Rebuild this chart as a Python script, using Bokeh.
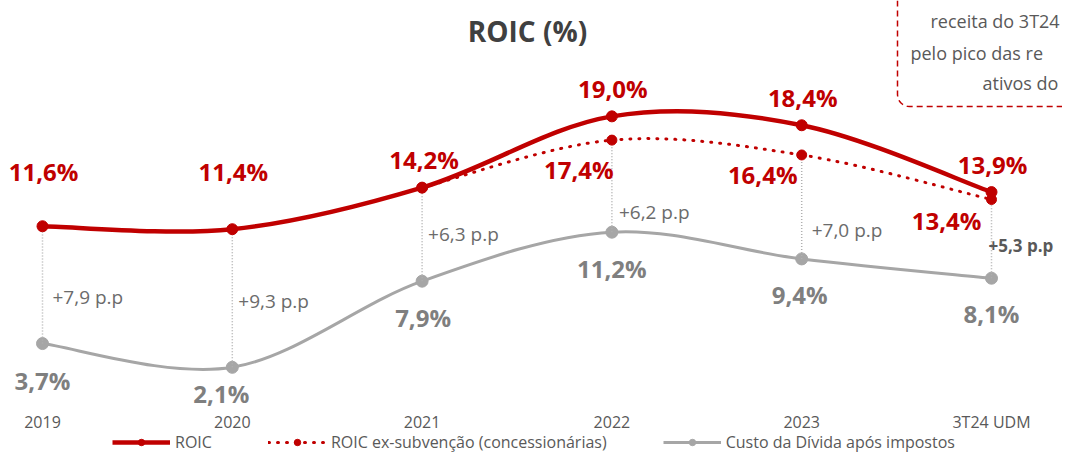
import math
from bokeh.plotting import figure
from bokeh.models import ColumnDataSource, Legend, LegendItem, Range1d
from bokeh.core.properties import value
from bokeh.embed import file_html
from bokeh.resources import INLINE

# ---------------- data ----------------
categories = ["2019", "2020", "2021", "2022", "2023", "3T24 UDM"]
roic = [11.6, 11.4, 14.2, 19.0, 18.4, 13.9]
roic_ex = [None, None, 14.2, 17.4, 16.4, 13.4]
custo = [3.7, 2.1, 7.9, 11.2, 9.4, 8.1]
title_text = "ROIC (%)"
legend_labels = ["ROIC", "ROIC ex-subvenção (concessionárias)", "Custo da Dívida após impostos"]
note_lines = ["receita do 3T24", "pelo pico das re", "ativos do"]

# ---------------- styles ----------------
RED = "#c00000"
GRAY_LINE = "#a6a6a6"
GRAY_LABEL = "#7f7f7f"
DIFF_COLOR = "#6b6b6b"
TEXT_DARK = "#404040"
AXIS_TEXT = "#595959"
FONT = "Open Sans"

W, H = 1062, 453

PX_X = 189.8
PX_Y = 14.85
X_ORIGIN = 42.0
Y_ORIGIN = 398.0


def sx(px):
    return (px - X_ORIGIN) / PX_X


def sy(py):
    return (Y_ORIGIN - py) / PX_Y


def fmt_pct(v):
    return f"{v:.1f}%".replace(".", ",")


def fmt_pp(v):
    return "+" + f"{v:.1f}".replace(".", ",") + " p.p"


p = figure(width=W, height=H,
           x_range=Range1d(sx(0), sx(W)), y_range=Range1d(sy(H), sy(0)),
           x_axis_location=None, y_axis_location=None, toolbar_location=None,
           output_backend="svg",
           min_border_left=0, min_border_right=0, min_border_top=0, min_border_bottom=0,
           outline_line_color=None, background_fill_color="white", border_fill_color="white")
p.grid.visible = False

xs = list(range(len(categories)))


def bezier_segments(xv, yv):
    pts = [(x, y) for x, y in zip(xv, yv) if y is not None]
    out = dict(x0=[], y0=[], x1=[], y1=[], cx0=[], cy0=[], cx1=[], cy1=[])
    n = len(pts)
    for k in range(n - 1):
        p0 = pts[k]
        p1 = pts[k + 1]
        pm = pts[k - 1] if k - 1 >= 0 else p0
        pn = pts[k + 2] if k + 2 < n else p1
        out["x0"].append(p0[0]); out["y0"].append(p0[1])
        out["x1"].append(p1[0]); out["y1"].append(p1[1])
        out["cx0"].append(p0[0] + (p1[0] - pm[0]) / 6.0)
        out["cy0"].append(p0[1] + (p1[1] - pm[1]) / 6.0)
        out["cx1"].append(p1[0] - (pn[0] - p0[0]) / 6.0)
        out["cy1"].append(p1[1] - (pn[1] - p0[1]) / 6.0)
    return ColumnDataSource(out)


g_line = p.bezier(x0="x0", y0="y0", x1="x1", y1="y1", cx0="cx0", cy0="cy0", cx1="cx1", cy1="cy1",
                  source=bezier_segments(xs, custo), line_color=GRAY_LINE, line_width=3)
g_pts = p.scatter(xs, custo, size=12, color=GRAY_LINE)

upper = [e if e is not None else r for r, e in zip(roic, roic_ex)]
p.segment(x0=xs, y0=custo, x1=xs, y1=upper, line_color="#b0b0b0", line_width=1.5, line_dash="1 2")

ex_x = [x for x, v in zip(xs, roic_ex) if v is not None]
ex_y = [v for v in roic_ex if v is not None]
e_line = p.bezier(x0="x0", y0="y0", x1="x1", y1="y1", cx0="cx0", cy0="cy0", cx1="cx1", cy1="cy1",
                  source=bezier_segments(xs, roic_ex), line_color=RED, line_width=3,
                  line_dash="1 8", line_cap="round")
e_pts = p.scatter(ex_x, ex_y, size=10, color=RED)

r_line = p.bezier(x0="x0", y0="y0", x1="x1", y1="y1", cx0="cx0", cy0="cy0", cx1="cx1", cy1="cy1",
                  source=bezier_segments(xs, roic), line_color=RED, line_width=4.5)
r_pts = p.scatter(xs, roic, size=11, color=RED)

roic_off = [(1, 55), (1, 58), (2, 28), (1, 28), (1, 28), (1, 28)]
ex_off = [None, None, None, (-33, -29), (-39, -20), (-45, -21)]
custo_off = [(0, -37), (-11, -26), (1, -36), (0, -36), (-2, -36), (0, -35)]
diff_off = [(10, 47), (6, 66), (6, 47), (7, 20), (10, 29), (-3, 33)]

p.text(x=[x + o[0] / PX_X for x, o in zip(xs, roic_off)],
       y=[v + o[1] / PX_Y for v, o in zip(roic, roic_off)],
       text=[fmt_pct(v) for v in roic], text_align="center", text_baseline="middle",
       text_font=value(FONT), text_font_style="bold", text_font_size="24px", text_color=RED)

ex_idx = [i for i, v in enumerate(roic_ex) if v is not None and ex_off[i] is not None]
p.text(x=[xs[i] + ex_off[i][0] / PX_X for i in ex_idx],
       y=[roic_ex[i] + ex_off[i][1] / PX_Y for i in ex_idx],
       text=[fmt_pct(roic_ex[i]) for i in ex_idx], text_align="center", text_baseline="middle",
       text_font=value(FONT), text_font_style="bold", text_font_size="24px", text_color=RED)

p.text(x=[x + o[0] / PX_X for x, o in zip(xs, custo_off)],
       y=[v + o[1] / PX_Y for v, o in zip(custo, custo_off)],
       text=[fmt_pct(v) for v in custo], text_align="center", text_baseline="middle",
       text_font=value(FONT), text_font_style="bold", text_font_size="24px", text_color=GRAY_LABEL)

diffs = [u - c for u, c in zip(upper, custo)]
n = len(xs)
p.text(x=[xs[i] + diff_off[i][0] / PX_X for i in range(n - 1)],
       y=[custo[i] + diff_off[i][1] / PX_Y for i in range(n - 1)],
       text=[fmt_pp(diffs[i]) for i in range(n - 1)], text_align="left", text_baseline="middle",
       text_font=value(FONT), text_font_size="19px", text_color=DIFF_COLOR)
p.text(x=[xs[-1] + diff_off[-1][0] / PX_X], y=[custo[-1] + diff_off[-1][1] / PX_Y],
       text=[fmt_pp(diffs[-1])], text_align="left", text_baseline="middle",
       text_font=value(FONT), text_font_style="bold", text_font_size="17px", text_color=AXIS_TEXT)

# category labels along the bottom (x positions from the x scale)
p.text(x=xs, y=[sy(421)] * len(xs), text=categories, text_align="center", text_baseline="middle",
       text_font=value(FONT), text_font_size="16px", text_color=AXIS_TEXT)

p.text(x=[sx(527)], y=[sy(30)], text=[title_text], text_align="center", text_baseline="middle",
       text_font=value(FONT), text_font_style="bold", text_font_size="28px", text_color=TEXT_DARK)

bx, by, rad = 897.0, 106.0, 12.0
box_px = [(bx, 0.0), (bx, by - rad)]
for k in range(1, 8):
    a = math.pi - (math.pi / 2) * k / 8
    box_px.append((bx + rad + rad * math.cos(a), by - rad + rad * math.sin(a)))
box_px += [(bx + rad, by), (1080.0, by)]
p.line([sx(a) for a, b in box_px], [sy(b) for a, b in box_px], line_color=RED, line_width=1.5,
       line_dash="6 4")
p.text(x=[sx(930), sx(910), sx(982)], y=[sy(20), sy(52), sy(82)], text=note_lines,
       text_align="left", text_baseline="middle", text_font=value(FONT), text_font_size="18px",
       text_color=AXIS_TEXT)

legend = Legend(items=[LegendItem(label=legend_labels[0], renderers=[r_line, r_pts]),
                       LegendItem(label=legend_labels[1], renderers=[e_line, e_pts]),
                       LegendItem(label=legend_labels[2], renderers=[g_line, g_pts])],
                orientation="horizontal", location=(112, 0), border_line_color=None,
                background_fill_alpha=0, label_text_font=FONT, label_text_font_size="16px",
                label_text_color=AXIS_TEXT, glyph_width=58, glyph_height=16, label_height=16,
                spacing=56, label_standoff=5, padding=0, margin=0)
p.add_layout(legend, "center")

open("out.html", "w").write(file_html(p, INLINE))
